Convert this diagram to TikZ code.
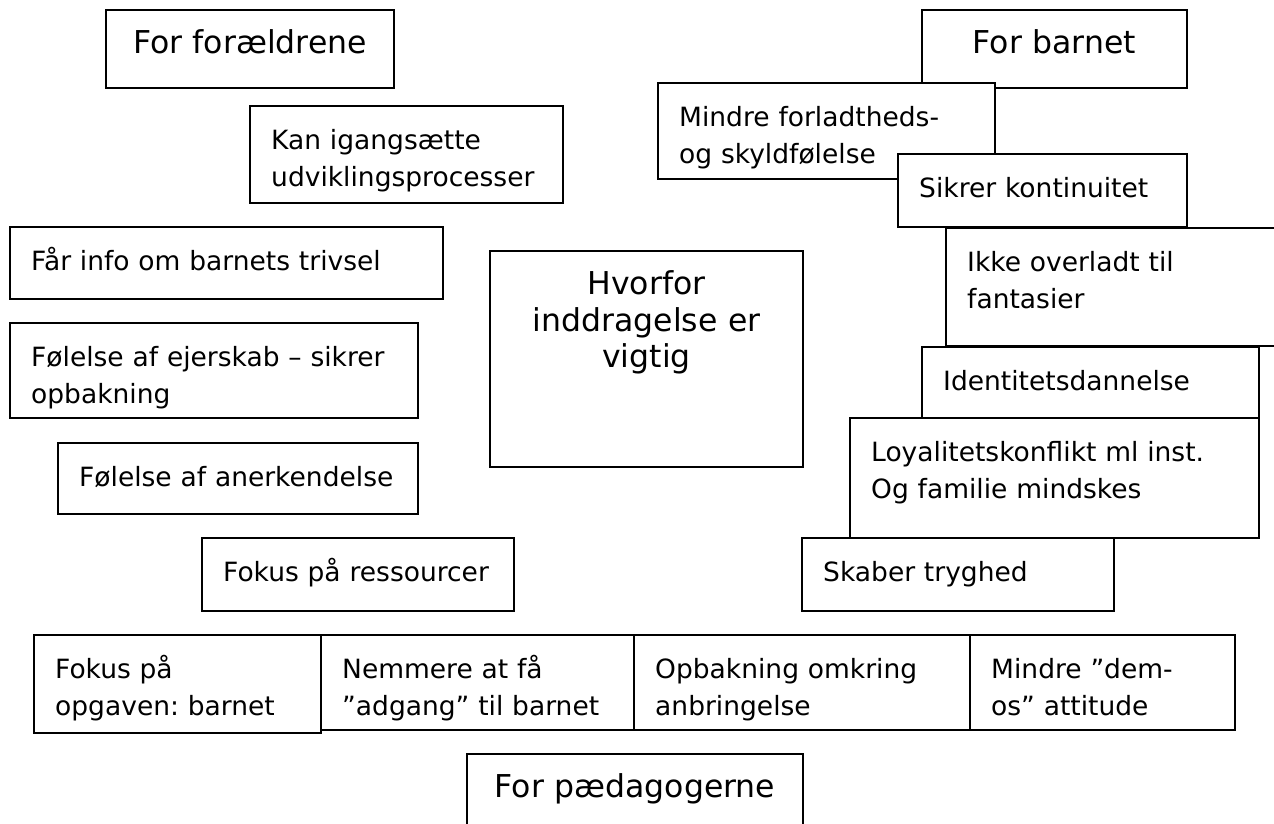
\documentclass[tikz,border=0pt]{standalone}
\usepackage{fontspec}
\setmainfont{DejaVu Sans}
\frenchspacing
\tikzset{
  box/.style={draw, line width=1.5pt, fill=white, anchor=north west, inner sep=0pt, outer sep=0pt},
  smalltxt/.style={font=\fontsize{26.5}{37}\selectfont, anchor=base west, inner sep=0pt, align=left, text width=400pt},
  bigtxt/.style={font=\fontsize{31.5}{36.5}\selectfont, anchor=base, inner sep=0pt, align=center},
}
\newcommand\lbox[6]{%
  \node[box, minimum width={#4-#2}, minimum height={#5-#3}] (#1) at (#2,#3) {};
  \node[smalltxt] (#1-text) at ([shift={(21,43)}]#1.north west) {#6};
}
\newcommand\cbox[6]{%
  \node[box, minimum width={#4-#2}, minimum height={#5-#3}] (#1) at (#2,#3) {};
  \node[bigtxt, text width={#4-#2}] (#1-text) at ([shift={(0,43.5)}]#1.north) {#6};
}
\begin{document}
\begin{tikzpicture}[x=1pt,y=-1pt]
\useasboundingbox (0,0) rectangle (1274,823);
\clip (0,0) rectangle (1274,823);
% left column: parents
\cbox{ff}{106}{10}{394}{88}{For forældrene}
\lbox{kan}{250}{106}{563}{203}{Kan igangsætte\\udviklingsprocesser}
\lbox{info}{10}{227}{443}{299}{Får info om barnets trivsel}
\lbox{ejer}{10}{323}{418}{418}{Følelse af ejerskab – sikrer\\opbakning}
\lbox{anerk}{58}{443}{418}{514}{Følelse af anerkendelse}
\lbox{ress}{202}{538}{514}{611}{Fokus på ressourcer}
% centre
\cbox{hv}{490}{251}{803}{467}{Hvorfor\\inddragelse er\\vigtig}
% right column: child
\cbox{fb}{922}{10}{1187}{88}{For barnet}
\lbox{mf}{658}{83}{995}{179}{Mindre forladtheds-\\og skyldfølelse}
\lbox{sk}{898}{154}{1187}{227}{Sikrer kontinuitet}
\lbox{ik}{946}{228}{1300}{346}{Ikke overladt til\\fantasier}
\lbox{id}{922}{347}{1259}{418}{Identitetsdannelse}
\lbox{loy}{850}{418}{1259}{538}{Loyalitetskonflikt ml inst.\\Og familie mindskes}
\lbox{skab}{802}{538}{1114}{611}{Skaber tryghed}
% bottom row: pedagogues
\lbox{b1}{34}{635}{321}{733}{Fokus på\\opgaven: barnet}
\lbox{b2}{321}{635}{634}{730}{Nemmere at få\\”adgang” til barnet}
\lbox{b3}{634}{635}{970}{730}{Opbakning omkring\\anbringelse}
\lbox{b4}{970}{635}{1235}{730}{Mindre ”dem-\\os” attitude}
\cbox{fp}{467}{754}{803}{850}{For pædagogerne}
\end{tikzpicture}
\end{document}
